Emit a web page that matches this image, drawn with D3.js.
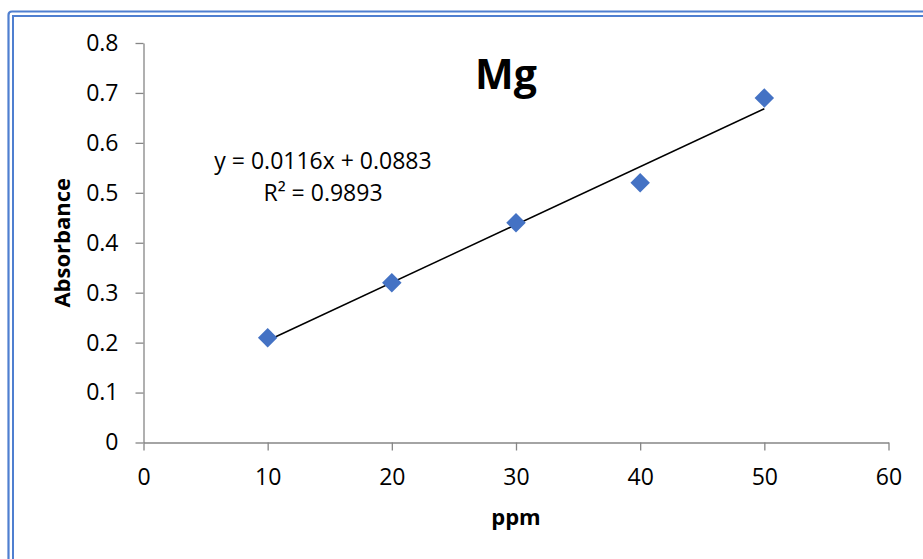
<!DOCTYPE html>
<html>
<head>
<meta charset="utf-8">
<script src="https://cdn.jsdelivr.net/npm/d3@7"></script>
<style>
  body { margin: 0; background: #fff; }
  .axis path, .axis line { stroke: #868686; stroke-width: 1.3; }
  .axis text { font-family: "Open Sans", sans-serif; font-size: 23px; fill: #000; }
</style>
</head>
<body>
<div class="chart"></div>
<script>
// data
let ppm = [10, 20, 30, 40, 50];
let absorbance = [0.21, 0.32, 0.44, 0.52, 0.69];
let xTicks = [0, 10, 20, 30, 40, 50, 60];
let yTicks = [0, 0.1, 0.2, 0.3, 0.4, 0.5, 0.6, 0.7, 0.8];
let slope = 0.0116;
let intercept = 0.0883;
let eqLines = ["y = 0.0116x + 0.0883", "R² = 0.9893"];

let width = 923;
let height = 559;

let svg = d3.select(".chart").append("svg")
    .attr("width", width)
    .attr("height", height);

// double blue frame (only top and left edges are in view)
svg.append("path")
    .attr("d", "M8.5,600 L8.5,15 Q8.5,11.5 12,11.5 L930,11.5")
    .attr("fill", "none").attr("stroke", "#4F7FD0").attr("stroke-width", 2.2);
svg.append("path")
    .attr("d", "M13,600 L13,16 L930,16")
    .attr("fill", "none").attr("stroke", "#4F7FD0").attr("stroke-width", 2);

let xScale = d3.scaleLinear().domain([0, 60]).range([143.5, 888.5]);
let yScale = d3.scaleLinear().domain([0, 0.8]).range([442.5, 43]);

let xAxis = svg.append("g")
    .attr("class", "axis")
    .attr("transform", `translate(0,${yScale(0)})`)
    .call(d3.axisBottom(xScale).tickValues(xTicks).tickSize(8).tickPadding(18).tickSizeOuter(0));

let yAxis = svg.append("g")
    .attr("class", "axis")
    .attr("transform", `translate(${xScale(0)},0)`)
    .call(d3.axisLeft(yScale).tickValues(yTicks).tickSize(8).tickPadding(17).tickSizeOuter(0)
        .tickFormat(d => d === 0 ? "0" : d3.format(".1f")(d)));

// trendline
let line = d3.line()
    .x(d => xScale(d))
    .y(d => yScale(slope * d + intercept));

svg.append("path")
    .datum([ppm[0], ppm[ppm.length - 1]])
    .attr("d", line)
    .attr("fill", "none")
    .attr("stroke", "#000")
    .attr("stroke-width", 1.5);

// diamond markers
let diamond = d3.symbol().type(d3.symbolSquare).size(190);
svg.selectAll(".pt")
    .data(ppm)
    .enter()
    .append("path")
    .attr("class", "pt")
    .attr("d", diamond)
    .attr("fill", "#4472C4")
    .attr("transform", (d, i) => `translate(${xScale(d)},${yScale(absorbance[i])}) rotate(45)`);

// title
svg.append("text")
    .attr("x", 506)
    .attr("y", 89)
    .attr("text-anchor", "middle")
    .style("font-family", "'Open Sans', sans-serif")
    .style("font-weight", "bold")
    .style("font-size", "41px")
    .text("Mg");

// equation label
svg.selectAll(".eq")
    .data(eqLines)
    .enter()
    .append("text")
    .attr("class", "eq")
    .attr("x", 323)
    .attr("y", (d, i) => 169 + i * 32)
    .attr("text-anchor", "middle")
    .style("font-family", "'Open Sans', sans-serif")
    .style("font-size", "23px")
    .text(d => d);

// axis titles
svg.append("text")
    .attr("x", 516)
    .attr("y", 525)
    .attr("text-anchor", "middle")
    .style("font-family", "'Open Sans', sans-serif")
    .style("font-weight", "bold")
    .style("font-size", "22px")
    .text("ppm");

svg.append("text")
    .attr("transform", `translate(70,${(yScale(0) + yScale(0.8)) / 2}) rotate(-90)`)
    .attr("text-anchor", "middle")
    .style("font-family", "'Open Sans', sans-serif")
    .style("font-weight", "bold")
    .style("font-size", "22px")
    .text("Absorbance");
</script>
</body>
</html>
